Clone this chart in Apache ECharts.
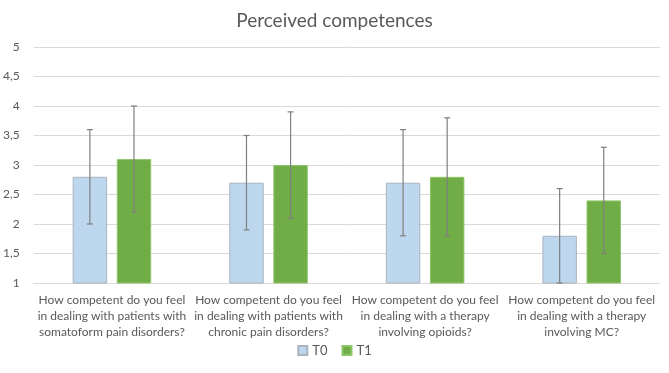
<!DOCTYPE html>
<html><head><meta charset="utf-8">
<script src="https://cdn.jsdelivr.net/npm/echarts@6/dist/echarts.min.js"></script>
<style>html,body{margin:0;padding:0;background:#fff}#c{width:669px;height:373px}</style>
</head><body><div id="c"></div>
<script>
var categories = [
  "How competent do you feel\nin dealing with patients with\nsomatoform pain disorders?",
  "How competent do you feel\nin dealing with patients with\nchronic pain disorders?",
  "How competent do you feel\nin dealing with a therapy\ninvolving opioids?",
  "How competent do you feel\nin dealing with a therapy\ninvolving MC?"
];
var seriesNames = ["T0", "T1"];
var t0Values = [2.8, 2.7, 2.7, 1.8];
var t1Values = [3.1, 3.0, 2.8, 2.4];
var t0Low = [2.0, 1.9, 1.8, 1.0];
var t0High = [3.6, 3.5, 3.6, 2.6];
var t1Low = [2.2, 2.1, 1.8, 1.5];
var t1High = [4.0, 3.9, 3.8, 3.3];

var BAR_FRAC = 0.22, GAP_FRAC = 0.28;
function errData(lo, hi) { return lo.map(function (v, i) { return [i, v, hi[i]]; }); }
function makeErr(sign) {
  return function (params, api) {
    var band = api.size([1, 0])[0];
    var w = band * BAR_FRAC;
    var off = sign * (w + w * GAP_FRAC) / 2;
    var lo = api.coord([api.value(0), api.value(1)]);
    var hi = api.coord([api.value(0), api.value(2)]);
    var x = lo[0] + off, c = 3;
    var st = { stroke: '#7f7f7f', lineWidth: 1.2 };
    return { type: 'group', children: [
      { type: 'line', shape: { x1: x, y1: lo[1], x2: x, y2: hi[1] }, style: st },
      { type: 'line', shape: { x1: x - c, y1: hi[1], x2: x + c, y2: hi[1] }, style: st },
      { type: 'line', shape: { x1: x - c, y1: lo[1], x2: x + c, y2: lo[1] }, style: st }
    ]};
  };
}
var font = 'Lato, "Liberation Sans", sans-serif';
var chart = echarts.init(document.getElementById('c'));
chart.setOption({
  animation: false,
  textStyle: { fontFamily: font },
  title: { text: 'Perceived competences', left: 'center', top: 6,
    textStyle: { fontSize: 19, fontWeight: 'normal', color: '#595959', fontFamily: font } },
  legend: { data: seriesNames, bottom: 11, left: 'center', itemWidth: 9, itemHeight: 9, itemGap: 14,
    textStyle: { fontSize: 13, color: '#595959', fontFamily: font }, icon: 'rect' },
  grid: { left: 33, right: 9, top: 47, bottom: 90, containLabel: false },
  xAxis: { type: 'category', data: categories,
    axisLine: { lineStyle: { color: '#d9d9d9' } }, axisTick: { show: false },
    axisLabel: { interval: 0, color: '#595959', fontSize: 12, lineHeight: 16, margin: 9, fontFamily: font } },
  yAxis: { type: 'value', min: 1, max: 5, interval: 0.5,
    axisLine: { show: false }, axisTick: { show: false },
    splitLine: { lineStyle: { color: '#d9d9d9' } },
    axisLabel: { color: '#595959', fontSize: 12, margin: 14, fontFamily: font,
      formatter: function (v) { return String(v).replace('.', ','); } } },
  series: [
    { name: seriesNames[0], type: 'bar', data: t0Values, barWidth: (BAR_FRAC * 100) + '%', barGap: (GAP_FRAC * 100) + '%',
      itemStyle: { color: '#bdd7ee', borderColor: '#a9b4bf', borderWidth: 1 } },
    { name: seriesNames[1], type: 'bar', data: t1Values, barWidth: (BAR_FRAC * 100) + '%',
      itemStyle: { color: '#70ad47', borderColor: '#8fc56a', borderWidth: 1 } },
    { type: 'custom', renderItem: makeErr(-1), data: errData(t0Low, t0High), z: 5, silent: true },
    { type: 'custom', renderItem: makeErr(1), data: errData(t1Low, t1High), z: 5, silent: true }
  ]
});
</script></body></html>
